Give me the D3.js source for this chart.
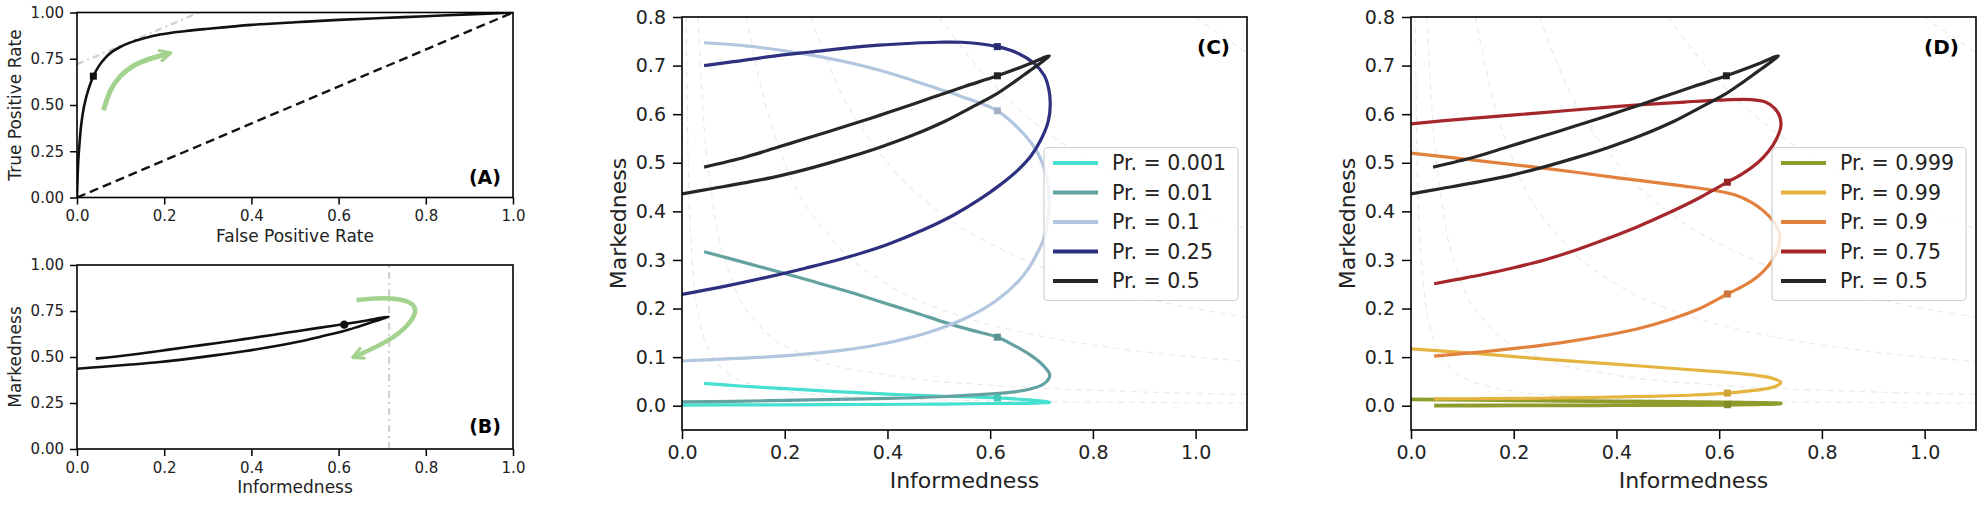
<!DOCTYPE html>
<html>
<head>
<meta charset="utf-8">
<script src="https://cdn.jsdelivr.net/npm/d3@7"></script>
<style>
  body { margin: 0; background: #fff; }
  svg { font-family: "DejaVu Sans", sans-serif; }
</style>
</head>
<body>
<svg width="1986" height="505"></svg>
<script>
// ---- panel A: ROC curve (FPR, TPR) ----
var roc = [[0,0],[0.001,0.08],[0.003,0.2],[0.006,0.3],[0.01,0.4],[0.016,0.49],[0.025,0.575],[0.0375,0.656],
  [0.05,0.71],[0.065,0.755],[0.08,0.787],[0.1,0.815],[0.125,0.84],[0.15,0.858],[0.19,0.881],[0.25,0.9],
  [0.3,0.912],[0.4,0.933],[0.5,0.947],[0.6,0.96],[0.7,0.97],[0.8,0.98],[0.9,0.99],[1,1]];
var rocPoint = [0.0375, 0.656];
var chance = [[0,0],[1,1]];
var tangent = [[0,0.72],[0.28,1.0]];
var arrowA = [[0.061,0.472],[0.075,0.58],[0.095,0.652],[0.137,0.733],[0.21,0.778]];

// ---- panel B / C / D: (Informedness, Markedness) ----
var pr0001 = [[0.043,0.046],[0.12,0.04],[0.2,0.035],[0.3,0.029],[0.4,0.024],[0.5,0.02],[0.614,0.016],[0.674,0.012],
  [0.705,0.009],[0.716,0.007],[0.69,0.0055],[0.6,0.0045],[0.45,0.003],[0.3,0.0022],[0.15,0.0017],[0,0.0013]];
var pr001 = [[0.043,0.317],[0.124,0.294],[0.19,0.275],[0.254,0.256],[0.32,0.236],[0.383,0.215],[0.45,0.193],[0.513,0.171],
  [0.565,0.155],[0.614,0.141],[0.65,0.122],[0.68,0.103],[0.703,0.083],[0.716,0.063],[0.706,0.046],[0.68,0.035],
  [0.642,0.028],[0.58,0.023],[0.513,0.019],[0.4,0.015],[0.3,0.013],[0.2,0.011],[0.1,0.009],[0,0.008]];
var pr01 = [[0.043,0.747],[0.12,0.741],[0.189,0.732],[0.254,0.721],[0.318,0.708],[0.383,0.691],[0.448,0.67],[0.5,0.652],
  [0.545,0.636],[0.614,0.607],[0.655,0.571],[0.687,0.53],[0.707,0.482],[0.715,0.421],[0.712,0.38],[0.703,0.34],
  [0.69,0.311],[0.675,0.283],[0.655,0.256],[0.61,0.215],[0.56,0.184],[0.5,0.158],[0.44,0.139],[0.38,0.125],
  [0.31,0.114],[0.24,0.106],[0.16,0.1],[0.08,0.096],[0,0.092]];
var pr025 = [[0.043,0.7],[0.1,0.708],[0.189,0.721],[0.25,0.728],[0.318,0.736],[0.383,0.742],[0.448,0.746],[0.5,0.748],
  [0.545,0.748],[0.614,0.739],[0.655,0.725],[0.685,0.705],[0.705,0.68],[0.714,0.652],[0.717,0.62],[0.713,0.585],
  [0.7,0.55],[0.68,0.515],[0.655,0.486],[0.62,0.455],[0.58,0.425],[0.53,0.393],[0.47,0.362],[0.4,0.332],
  [0.32,0.305],[0.24,0.283],[0.16,0.263],[0.08,0.245],[0,0.229]];
var pr05 = [[0.043,0.491],[0.124,0.512],[0.189,0.533],[0.254,0.554],[0.318,0.575],[0.383,0.597],[0.448,0.62],[0.5,0.639],
  [0.55,0.657],[0.614,0.679],[0.668,0.7],[0.715,0.72],[0.695,0.703],[0.674,0.687],[0.645,0.665],[0.61,0.64],
  [0.56,0.612],[0.513,0.586],[0.45,0.557],[0.383,0.531],[0.32,0.51],[0.254,0.49],[0.19,0.473],[0.124,0.459],
  [0.06,0.447],[0,0.436]];
var pr075 = [[0,0.58],[0.1,0.59],[0.208,0.599],[0.3,0.607],[0.403,0.616],[0.532,0.625],[0.6,0.629],[0.662,0.63],
  [0.69,0.625],[0.708,0.612],[0.718,0.595],[0.72,0.575],[0.711,0.548],[0.695,0.522],[0.675,0.5],[0.648,0.479],
  [0.616,0.46],[0.56,0.427],[0.5,0.396],[0.44,0.368],[0.38,0.343],[0.32,0.32],[0.26,0.3],[0.2,0.284],
  [0.14,0.27],[0.09,0.26],[0.045,0.251]];
var pr09 = [[0,0.52],[0.143,0.503],[0.273,0.487],[0.403,0.469],[0.532,0.452],[0.591,0.443],[0.63,0.434],[0.662,0.419],
  [0.685,0.402],[0.705,0.38],[0.717,0.355],[0.716,0.33],[0.708,0.307],[0.695,0.287],[0.675,0.266],[0.648,0.247],
  [0.616,0.23],[0.56,0.199],[0.5,0.176],[0.44,0.158],[0.38,0.145],[0.3,0.131],[0.22,0.12],[0.14,0.111],[0.045,0.102]];
var pr099 = [[0,0.117],[0.143,0.106],[0.273,0.095],[0.403,0.085],[0.532,0.075],[0.62,0.068],[0.675,0.062],[0.705,0.056],
  [0.72,0.048],[0.71,0.04],[0.68,0.033],[0.616,0.026],[0.55,0.022],[0.45,0.019],[0.3,0.016],[0.15,0.0145],[0.045,0.014]];
var pr0999 = [[0,0.013],[0.2,0.011],[0.4,0.009],[0.6,0.007],[0.72,0.0045],[0.616,0.002],[0.4,0.001],[0.2,0.0005],[0.045,0.0003]];

var markersC = [[0.614,0.016],[0.614,0.141],[0.614,0.607],[0.614,0.739],[0.614,0.679]];
var markersD = [[0.616,0.002],[0.616,0.026],[0.616,0.23],[0.616,0.46],[0.614,0.679]];
var labelsC = ["Pr. = 0.001","Pr. = 0.01","Pr. = 0.1","Pr. = 0.25","Pr. = 0.5"];
var labelsD = ["Pr. = 0.999","Pr. = 0.99","Pr. = 0.9","Pr. = 0.75","Pr. = 0.5"];
var colorsC = ["#45e0d0","#64a2a2","#b3c6df","#2d2f7f","#262626"];
var colorsD = ["#8e9c2c","#e4b43f","#e2813e","#a6272b","#262626"];

var bPoint = [0.613, 0.676];
var jMax = 0.716;
var arrowB = [[0.641,0.81],[0.725,0.828],[0.788,0.783],[0.763,0.674],[0.714,0.583],[0.637,0.502]];

// faint background iso-lines in C and D
var isoLines = [
  [[0.008,0.8],[0.012,0.5],[0.02,0.3],[0.04,0.15],[0.08,0.075],[0.15,0.04],[0.3,0.02],[0.6,0.01],[1.1,0.0055]],
  [[0.031,0.8],[0.04,0.62],[0.06,0.42],[0.1,0.25],[0.15,0.167],[0.25,0.1],[0.4,0.063],[0.6,0.042],[0.85,0.03],[1.1,0.023]],
  [[0.125,0.8],[0.16,0.63],[0.2,0.5],[0.3,0.333],[0.4,0.25],[0.55,0.182],[0.7,0.143],[0.9,0.111],[1.1,0.091]],
  [[0.25,0.8],[0.3,0.667],[0.4,0.5],[0.5,0.4],[0.65,0.308],[0.8,0.25],[0.95,0.21],[1.1,0.182]],
  [[0.5,0.8],[0.6,0.667],[0.7,0.571],[0.8,0.5],[0.95,0.421],[1.1,0.364]],
  [[1.0,0.8],[1.05,0.762],[1.1,0.727]]
];

var svg = d3.select("svg");
var defs = svg.append("defs");
defs.append("marker")
    .attr("id", "ahead")
    .attr("viewBox", "0 0 12 12")
    .attr("refX", 9).attr("refY", 6)
    .attr("markerWidth", 14).attr("markerHeight", 14)
    .attr("markerUnits", "userSpaceOnUse")
    .attr("orient", "auto")
  .append("path")
    .attr("d", "M1,1 L11,6 L1,11")
    .attr("fill", "none")
    .attr("stroke", "#a3d28e")
    .attr("stroke-width", 2.6);

function panel(o) {
  var x = d3.scaleLinear().domain(o.xd).range([o.left, o.right]);
  var y = d3.scaleLinear().domain(o.yd).range([o.bottom, o.top]);
  var g = svg.append("g");
  defs.append("clipPath").attr("id", "clip" + o.name)
    .append("rect")
      .attr("x", o.left).attr("y", o.top)
      .attr("width", o.right - o.left).attr("height", o.bottom - o.top);
  var plot = g.append("g").attr("clip-path", "url(#clip" + o.name + ")");

  var ax = g.append("g")
      .attr("transform", "translate(0," + o.bottom + ")")
      .call(d3.axisBottom(x).tickValues(o.xt).tickFormat(d3.format(".1f"))
        .tickSize(o.tick).tickPadding(o.pad));
  var ay = g.append("g")
      .attr("transform", "translate(" + o.left + ",0)")
      .call(d3.axisLeft(y).tickValues(o.yt).tickFormat(d3.format(o.yf))
        .tickSize(o.tick).tickPadding(o.pad));
  [ax, ay].forEach(function(a) {
    a.select(".domain").remove();
    a.selectAll("line").attr("stroke", "#000").attr("stroke-width", 1.5);
    a.selectAll("text").attr("fill", "#222").style("font-size", o.tickFont + "px")
      .style("font-family", "DejaVu Sans");
  });

  g.append("text")
      .attr("x", (o.left + o.right) / 2)
      .attr("y", o.xlabY)
      .attr("text-anchor", "middle")
      .attr("fill", "#222")
      .style("font-size", o.labFont + "px")
      .text(o.xlab);
  g.append("text")
      .attr("transform", "translate(" + o.ylabX + "," + ((o.top + o.bottom) / 2) + ") rotate(-90)")
      .attr("text-anchor", "middle")
      .attr("fill", "#222")
      .style("font-size", o.labFont + "px")
      .text(o.ylab);

  var top = g.append("g");
  top.append("rect")
      .attr("x", o.left).attr("y", o.top)
      .attr("width", o.right - o.left).attr("height", o.bottom - o.top)
      .attr("fill", "none").attr("stroke", "#000").attr("stroke-width", 1.6);
  top.append("text")
      .attr("x", o.right - o.tagDx)
      .attr("y", o.tagY)
      .attr("text-anchor", "end")
      .attr("fill", "#000")
      .style("font-size", o.tagFont + "px")
      .style("font-weight", "bold")
      .text(o.tag);
  return {x: x, y: y, plot: plot, top: top};
}

function lineOf(p, curve) {
  return d3.line()
    .x(function(d) { return p.x(d[0]); })
    .y(function(d) { return p.y(d[1]); })
    .curve(curve || d3.curveCatmullRom.alpha(0.5));
}

// ---------- A ----------
var A = panel({name: "A", left: 77, right: 513, top: 12.5, bottom: 197.5,
  xd: [0, 1], yd: [0, 1], xt: d3.range(0, 1.01, 0.2), yt: [0, 0.25, 0.5, 0.75, 1], yf: ".2f",
  tick: 7, pad: 6, tickFont: 15, labFont: 17,
  xlab: "False Positive Rate", xlabY: 242, ylab: "True Positive Rate", ylabX: 21,
  tag: "(A)", tagDx: 12, tagY: 184, tagFont: 19});

A.plot.append("path").datum(tangent)
    .attr("d", lineOf(A, d3.curveLinear))
    .attr("fill", "none").attr("stroke", "#cfcfcf").attr("stroke-width", 2.2)
    .attr("stroke-dasharray", "7,4,2,4");
A.plot.append("path").datum(chance)
    .attr("d", lineOf(A, d3.curveLinear))
    .attr("fill", "none").attr("stroke", "#111").attr("stroke-width", 2.4)
    .attr("stroke-dasharray", "9,5");
A.plot.append("path").datum(roc)
    .attr("d", lineOf(A))
    .attr("fill", "none").attr("stroke", "#111").attr("stroke-width", 2.6);
A.plot.append("rect")
    .attr("x", A.x(rocPoint[0]) - 3.5).attr("y", A.y(rocPoint[1]) - 3.5)
    .attr("width", 7).attr("height", 7).attr("fill", "#111");
A.plot.append("path").datum(arrowA)
    .attr("d", lineOf(A, d3.curveBasis))
    .attr("fill", "none").attr("stroke", "#a3d28e").attr("stroke-width", 5)
    .attr("marker-end", "url(#ahead)");

// ---------- B ----------
var B = panel({name: "B", left: 77, right: 513, top: 265, bottom: 449,
  xd: [0, 1], yd: [0, 1], xt: d3.range(0, 1.01, 0.2), yt: [0, 0.25, 0.5, 0.75, 1], yf: ".2f",
  tick: 7, pad: 6, tickFont: 15, labFont: 17,
  xlab: "Informedness", xlabY: 493, ylab: "Markedness", ylabX: 21,
  tag: "(B)", tagDx: 12, tagY: 433, tagFont: 19});

B.plot.append("path").datum([[jMax, 0], [jMax, 1]])
    .attr("d", lineOf(B, d3.curveLinear))
    .attr("fill", "none").attr("stroke", "#cfcfcf").attr("stroke-width", 2)
    .attr("stroke-dasharray", "7,4,2,4");
B.plot.append("path").datum(pr05)
    .attr("d", lineOf(B))
    .attr("fill", "none").attr("stroke", "#111").attr("stroke-width", 2.6)
    .attr("stroke-linejoin", "round");
B.plot.append("circle")
    .attr("cx", B.x(bPoint[0])).attr("cy", B.y(bPoint[1])).attr("r", 4.2)
    .attr("fill", "#111");
B.plot.append("path").datum(arrowB)
    .attr("d", lineOf(B, d3.curveBasis))
    .attr("fill", "none").attr("stroke", "#a3d28e").attr("stroke-width", 4.5)
    .attr("marker-end", "url(#ahead)");

// ---------- C and D ----------
function prevPanel(o, series, markers, colors, labels, legendLeft) {
  var P = panel({name: o.name, left: o.left, right: o.left + 565, top: 17, bottom: 430,
    xd: [0, 1.1], yd: [-0.05, 0.8], xt: d3.range(0, 1.01, 0.2), yt: d3.range(0, 0.81, 0.1), yf: ".1f",
    tick: 9, pad: 7, tickFont: 19, labFont: 22,
    xlab: "Informedness", xlabY: 488, ylab: "Markedness", ylabX: o.left - 56,
    tag: o.tag, tagDx: 17, tagY: 54, tagFont: 20});

  P.plot.selectAll(".iso").data(isoLines).enter().append("path")
      .attr("class", "iso")
      .attr("d", lineOf(P, d3.curveMonotoneX))
      .attr("fill", "none").attr("stroke", "#e9e9e9").attr("stroke-width", 1.1)
      .attr("stroke-dasharray", "6,5");

  P.plot.selectAll(".curve").data(series).enter().append("path")
      .attr("class", "curve")
      .attr("d", lineOf(P))
      .attr("fill", "none")
      .attr("stroke", function(d, i) { return colors[i]; })
      .attr("stroke-width", function(d, i) { return o.name === "D" && i === 0 ? 3.8 : 3.2; })
      .attr("stroke-linejoin", "round");

  P.plot.selectAll(".mk").data(markers).enter().append("rect")
      .attr("class", "mk")
      .attr("x", function(d) { return P.x(d[0]) - 3.5; })
      .attr("y", function(d) { return P.y(d[1]) - 3.5; })
      .attr("width", 7).attr("height", 7)
      .attr("fill", function(d, i) { return d3.color(colors[i]).darker(0.3); });

  var lg = P.top.append("g");
  lg.append("rect")
      .attr("x", legendLeft).attr("y", 147.5)
      .attr("width", 194).attr("height", 153)
      .attr("rx", 4)
      .attr("fill", "#fff").attr("fill-opacity", 0.8)
      .attr("stroke", "#d0d0d0").attr("stroke-width", 1.2);
  var rows = lg.selectAll(".row").data(labels).enter().append("g")
      .attr("class", "row")
      .attr("transform", function(d, i) { return "translate(" + legendLeft + "," + (163 + i * 29.5) + ")"; });
  rows.append("line")
      .attr("x1", 9).attr("x2", 54)
      .attr("stroke", function(d, i) { return colors[i]; })
      .attr("stroke-width", 4.2);
  rows.append("text")
      .attr("x", 68).attr("dy", "0.36em")
      .attr("fill", "#222")
      .style("font-size", "20.5px")
      .text(function(d) { return d; });
  return P;
}

prevPanel({name: "C", left: 682, tag: "(C)"},
  [pr0001, pr001, pr01, pr025, pr05], markersC, colorsC, labelsC, 1044);
prevPanel({name: "D", left: 1411, tag: "(D)"},
  [pr0999, pr099, pr09, pr075, pr05], markersD, colorsD, labelsD, 1772);
</script>
</body>
</html>
